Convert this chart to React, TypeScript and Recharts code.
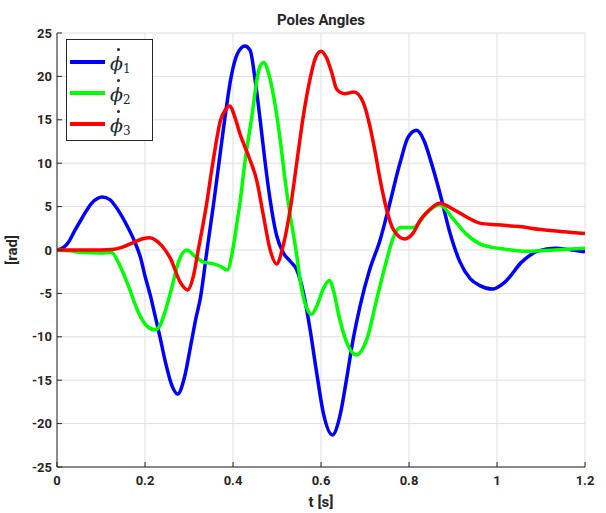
import React from 'react';
import { LineChart, Line, XAxis, YAxis, CartesianGrid } from 'recharts';

const xTicks = [0, 0.2, 0.4, 0.6, 0.8, 1, 1.2];
const yTicks = [-25, -20, -15, -10, -5, 0, 5, 10, 15, 20, 25];

const t1 = [0, 0.015, 0.026, 0.04, 0.056, 0.079, 0.103, 0.12, 0.132, 0.155, 0.177, 0.19, 0.2, 0.212, 0.223, 0.234, 0.245, 0.261, 0.274, 0.29, 0.305, 0.316, 0.326, 0.341, 0.355, 0.368, 0.381, 0.396, 0.41, 0.427, 0.439, 0.45, 0.461, 0.473, 0.484, 0.499, 0.514, 0.53, 0.545, 0.56, 0.575, 0.59, 0.605, 0.626, 0.643, 0.658, 0.673, 0.689, 0.711, 0.734, 0.753, 0.78, 0.798, 0.817, 0.835, 0.848, 0.87, 0.893, 0.916, 0.939, 0.961, 0.989, 1.018, 1.056, 1.094, 1.132, 1.17, 1.2];
const phi1 = [0, 0.3, 0.9, 2.2, 3.6, 5.4, 6.1, 5.8, 5.1, 3.2, 0.9, -0.9, -3.0, -5.2, -7.6, -10.0, -12.6, -15.6, -16.6, -14.6, -10.7, -7.8, -5.5, 0, 5, 10, 15, 20, 22.6, 23.5, 23.0, 19.7, 15.3, 10.1, 5.9, 1.7, -0.3, -1.3, -2.3, -4.9, -9.1, -14.1, -18.7, -21.3, -19.1, -14.9, -10.3, -6.4, -2.2, 1.1, 4.7, 10.1, 13.0, 13.8, 12.5, 10.5, 6.6, 2.0, -1.4, -3.3, -4.1, -4.5, -3.7, -1.4, -0.1, 0.2, 0.0, -0.2];

const t2 = [0, 0.03, 0.06, 0.1, 0.124, 0.139, 0.15, 0.162, 0.185, 0.205, 0.223, 0.235, 0.245, 0.26, 0.276, 0.295, 0.315, 0.333, 0.356, 0.372, 0.387, 0.4, 0.408, 0.416, 0.427, 0.442, 0.46, 0.47, 0.48, 0.492, 0.507, 0.518, 0.53, 0.543, 0.556, 0.567, 0.579, 0.59, 0.605, 0.619, 0.63, 0.639, 0.658, 0.68, 0.704, 0.727, 0.749, 0.764, 0.78, 0.81, 0.84, 0.87, 0.9, 0.931, 0.961, 0.99, 1.018, 1.07, 1.13, 1.2];
const phi2 = [0, -0.1, -0.3, -0.35, -0.3, -1.4, -2.6, -4.1, -7.2, -8.8, -9.2, -8.6, -7.2, -4.5, -1.4, 0, -0.8, -1.4, -1.6, -1.9, -2.3, 0.2, 2.8, 5.5, 10.1, 15.1, 21.0, 21.6, 20.5, 17.8, 12.8, 8.2, 4.0, 0, -4.5, -6.6, -7.4, -6.5, -4.5, -3.5, -5.0, -7.2, -10.6, -12.1, -10.3, -5.6, -1.2, 1.4, 2.6, 2.6, 4.3, 5.2, 3.6, 1.8, 0.7, 0.3, 0.1, -0.15, 0.0, 0.2];

const t3 = [0, 0.05, 0.1, 0.125, 0.147, 0.177, 0.195, 0.211, 0.225, 0.238, 0.258, 0.28, 0.297, 0.31, 0.321, 0.339, 0.354, 0.372, 0.383, 0.392, 0.405, 0.415, 0.437, 0.454, 0.469, 0.484, 0.499, 0.514, 0.53, 0.545, 0.56, 0.575, 0.588, 0.6, 0.612, 0.624, 0.636, 0.654, 0.675, 0.696, 0.711, 0.723, 0.734, 0.749, 0.764, 0.79, 0.81, 0.825, 0.84, 0.87, 0.9, 0.931, 0.961, 1.0, 1.05, 1.1, 1.15, 1.2];
const phi3 = [0, 0, 0, 0.05, 0.3, 0.95, 1.3, 1.4, 1.1, 0.5, -1.0, -3.7, -4.6, -3.0, 0, 5, 10, 15, 16.2, 16.6, 15.2, 13.5, 10.6, 8.0, 4.0, 0.1, -1.6, 0.5, 4.7, 10.1, 15.5, 19.7, 22.2, 22.9, 22.2, 20.5, 18.5, 18.0, 18.2, 17.0, 14.3, 11.3, 8.2, 4.7, 2.4, 1.27, 2.0, 3.4, 4.3, 5.4, 4.7, 3.8, 3.1, 2.9, 2.7, 2.35, 2.1, 1.9];

const seriesNames = ['1', '2', '3'];
const seriesColors = ['#0000ff', '#00ff00', '#ff0000'];

const toRows = (ts: number[], vs: number[]) => ts.map((t, i) => ({ t, v: vs[i] }));
const data1 = toRows(t1, phi1);
const data2 = toRows(t2, phi2);
const data3 = toRows(t3, phi3);

const FONT = 'Roboto, "Liberation Sans", Arial, sans-serif';
const TXT = '#262626';
const tickStyle = { fontFamily: FONT, fontSize: 13, fontWeight: 700, fill: TXT };

const LegendBox = () => (
  <div
    style={{
      position: 'absolute',
      left: 66,
      top: 39,
      background: '#fff',
      border: '1px solid #262626',
      width: 87,
      height: 102,
      boxSizing: 'border-box',
      paddingTop: 6,
    }}
  >
    {seriesNames.map((n, i) => (
      <div key={n} style={{ display: 'flex', alignItems: 'center', height: 31 }}>
        <div style={{ width: 35, height: 4, background: seriesColors[i], marginLeft: 3, marginRight: 5 }} />
        <div style={{ position: 'relative', display: 'flex', alignItems: 'flex-end', paddingTop: 4 }}>
          <div
            style={{
              position: 'absolute',
              left: 7,
              top: -1,
              width: 3,
              height: 3,
              borderRadius: 2,
              background: TXT,
            }}
          />
          <span
            style={{
              fontFamily: '"DejaVu Serif", serif',
              fontStyle: 'italic',
              fontSize: 19,
              color: TXT,
              lineHeight: '21px',
            }}
          >
            {'\u03D5'}
          </span>
          <span
            style={{
              fontFamily: '"DejaVu Serif", serif',
              fontSize: 12,
              color: TXT,
              lineHeight: '14px',
              marginBottom: -2,
            }}
          >
            {n}
          </span>
        </div>
      </div>
    ))}
  </div>
);

export default function App() {
  return (
    <div style={{ position: 'absolute', left: 0, top: 0, width: 606, height: 513, background: '#fff' }}>
      <LineChart width={606} height={513} margin={{ top: 33, right: 21, left: 0, bottom: 0 }}>
        <CartesianGrid stroke="#dfdfdf" strokeWidth={1} verticalValues={xTicks} horizontalValues={yTicks} />
        <XAxis
          dataKey="t"
          type="number"
          domain={[0, 1.2]}
          ticks={xTicks}
          height={46}
          tickSize={-5}
          tickMargin={14}
          tick={tickStyle}
          stroke={TXT}
          allowDataOverflow
          label={{ value: 't [s]', position: 'insideBottom', offset: 6, style: { fontFamily: FONT, fontSize: 15, fontWeight: 700, fill: TXT } }}
        />
        <XAxis
          xAxisId="top"
          orientation="top"
          type="number"
          domain={[0, 1.2]}
          ticks={xTicks}
          height={0}
          mirror
          tickSize={5}
          tick={false}
          stroke={TXT}
          allowDataOverflow
        />
        <YAxis
          type="number"
          domain={[-25, 25]}
          ticks={yTicks}
          width={57}
          tickSize={-5}
          tickMargin={10}
          tick={tickStyle}
          stroke={TXT}
          allowDataOverflow
          label={{ value: '[rad]', angle: -90, position: 'insideLeft', offset: 12, style: { fontFamily: FONT, fontSize: 15, fontWeight: 700, fill: TXT, textAnchor: 'middle' } }}
        />
        <YAxis
          yAxisId="right"
          orientation="right"
          type="number"
          domain={[-25, 25]}
          ticks={yTicks}
          width={0}
          mirror
          tickSize={5}
          tick={false}
          stroke={TXT}
          allowDataOverflow
        />
        <Line data={data1} dataKey="v" type="monotone" stroke={seriesColors[0]} strokeWidth={3.5} dot={false} isAnimationActive={false} />
        <Line data={data2} dataKey="v" type="monotone" stroke={seriesColors[1]} strokeWidth={3.5} dot={false} isAnimationActive={false} />
        <Line data={data3} dataKey="v" type="monotone" stroke={seriesColors[2]} strokeWidth={3.5} dot={false} isAnimationActive={false} />
      </LineChart>
      <div
        style={{
          position: 'absolute',
          left: 0,
          width: 642,
          top: 11,
          textAlign: 'center',
          fontFamily: FONT,
          fontWeight: 700,
          fontSize: 15,
          color: TXT,
        }}
      >
        Poles Angles
      </div>
      <LegendBox />
    </div>
  );
}
